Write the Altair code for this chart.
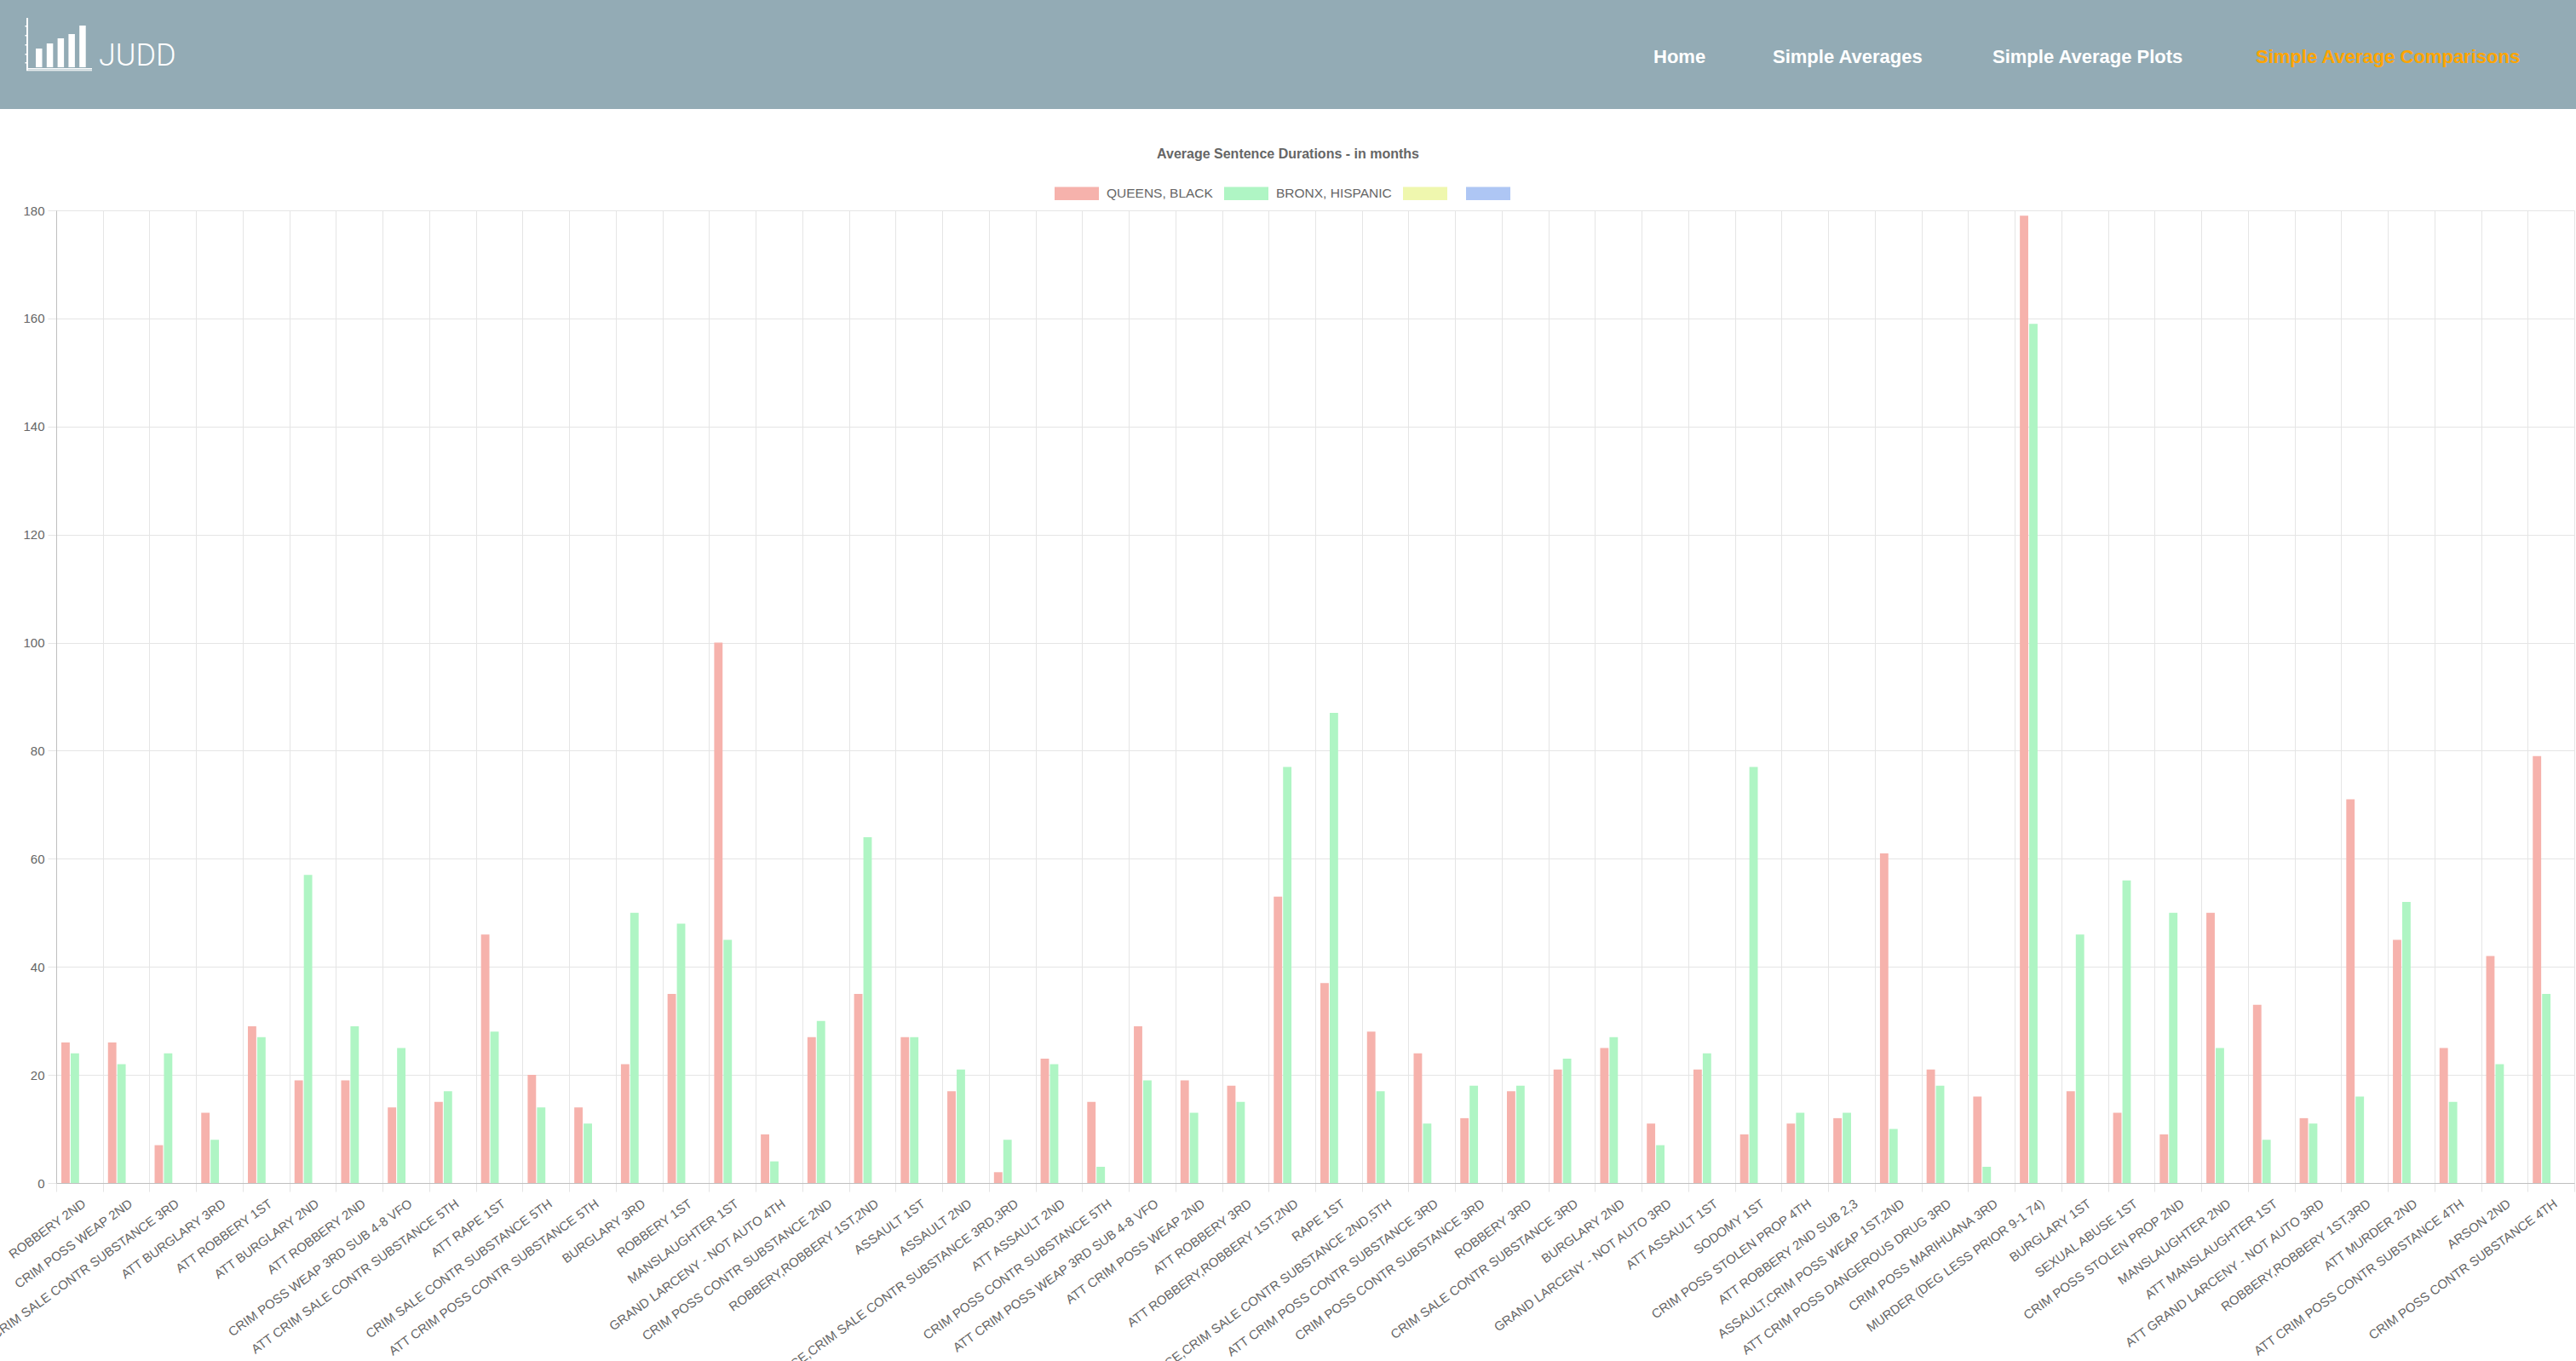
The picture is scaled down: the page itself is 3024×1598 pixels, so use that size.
import altair as alt
import pandas as pd

# ---------------- data ----------------
CATEGORIES = [
    "ROBBERY 2ND", "CRIM POSS WEAP 2ND", "CRIM SALE CONTR SUBSTANCE 3RD", "ATT BURGLARY 3RD",
    "ATT ROBBERY 1ST", "ATT BURGLARY 2ND", "ATT ROBBERY 2ND", "CRIM POSS WEAP 3RD SUB 4-8 VFO",
    "ATT CRIM SALE CONTR SUBSTANCE 5TH", "ATT RAPE 1ST", "CRIM SALE CONTR SUBSTANCE 5TH",
    "ATT CRIM POSS CONTR SUBSTANCE 5TH", "BURGLARY 3RD", "ROBBERY 1ST", "MANSLAUGHTER 1ST",
    "GRAND LARCENY - NOT AUTO 4TH", "CRIM POSS CONTR SUBSTANCE 2ND", "ROBBERY,ROBBERY 1ST,2ND",
    "ASSAULT 1ST", "ASSAULT 2ND", "CRIM POSS CONTR SUBSTANCE,CRIM SALE CONTR SUBSTANCE 3RD,3RD",
    "ATT ASSAULT 2ND", "CRIM POSS CONTR SUBSTANCE 5TH", "ATT CRIM POSS WEAP 3RD SUB 4-8 VFO",
    "ATT CRIM POSS WEAP 2ND", "ATT ROBBERY 3RD", "ATT ROBBERY,ROBBERY 1ST,2ND", "RAPE 1ST",
    "CRIM SALE CONTR SUBSTANCE,CRIM SALE CONTR SUBSTANCE 2ND,5TH", "ATT CRIM POSS CONTR SUBSTANCE 3RD",
    "CRIM POSS CONTR SUBSTANCE 3RD", "ROBBERY 3RD", "CRIM SALE CONTR SUBSTANCE 3RD ", "BURGLARY 2ND",
    "GRAND LARCENY - NOT AUTO 3RD", "ATT ASSAULT 1ST", "SODOMY 1ST", "CRIM POSS STOLEN PROP 4TH",
    "ATT ROBBERY 2ND SUB 2,3", "ASSAULT,CRIM POSS WEAP 1ST,2ND", "ATT CRIM POSS DANGEROUS DRUG 3RD",
    "CRIM POSS MARIHUANA 3RD", "MURDER (DEG LESS PRIOR 9-1 74)", "BURGLARY 1ST", "SEXUAL ABUSE 1ST",
    "CRIM POSS STOLEN PROP 2ND", "MANSLAUGHTER 2ND", "ATT MANSLAUGHTER 1ST",
    "ATT GRAND LARCENY - NOT AUTO 3RD", "ROBBERY,ROBBERY 1ST,3RD", "ATT MURDER 2ND",
    "ATT CRIM POSS CONTR SUBSTANCE 4TH", "ARSON 2ND", "CRIM POSS CONTR SUBSTANCE 4TH",
]
QUEENS_BLACK = [
    26, 26, 7, 13, 29, 19, 19, 14, 15, 46, 20, 14, 22, 35, 100, 9, 27, 35, 27, 17,
    2, 23, 15, 29, 19, 18, 53, 37, 28, 24, 12, 17, 21, 25, 11, 21, 9, 11, 12, 61,
    21, 16, 179, 17, 13, 9, 50, 33, 12, 71, 45, 25, 42, 79,
]
BRONX_HISPANIC = [
    24, 22, 24, 8, 27, 57, 29, 25, 17, 28, 14, 11, 50, 48, 45, 4, 30, 64, 27, 21,
    8, 22, 3, 19, 13, 15, 77, 87, 17, 11, 18, 18, 23, 27, 7, 24, 77, 13, 13, 10,
    18, 3, 159, 46, 56, 50, 25, 8, 11, 16, 52, 15, 22, 35,
]
SERIES = ["QUEENS, BLACK", "BRONX, HISPANIC", "series3", "series4"]
SERIES_COLORS = ["#F6B2AC", "#AFF5C4", "#EFF7AE", "#AEC6F4"]
Y_TICKS = [0, 20, 40, 60, 80, 100, 120, 140, 160, 180]
TITLE = "Average Sentence Durations - in months"
NAV_ITEMS = ["Home", "Simple Averages", "Simple Average Plots", "Simple Average Comparisons"]
BRAND = "JUDD"
ICON_BAR_HEIGHTS = [22, 28, 34, 39, 49]

# ---------------- layout (pixels) ----------------
PAGE_W = 3024
LEFT, TOP = 66, 247
W, H = 2956, 1142
HEADER_H = 128
NAV_X = [1941, 2081, 2339, 2648]
NAV_COLORS = ["white", "white", "white", "#FFA500"]
FONT = "Liberation Sans"

rows = []
for c, q, b in zip(CATEGORIES, QUEENS_BLACK, BRONX_HISPANIC):
    rows.append({"category": c, "series": SERIES[0], "value": q})
    rows.append({"category": c, "series": SERIES[1], "value": b})
df = pd.DataFrame(rows)

bars = alt.Chart(df).mark_bar().encode(
    x=alt.X(
        "category:N",
        sort=CATEGORIES,
        scale=alt.Scale(paddingInner=0, paddingOuter=0),
        axis=alt.Axis(
            title=None, labelAngle=-36, labelAlign="right", labelBaseline="middle",
            labelFontSize=15, labelColor="#666666", labelFont=FONT,
            labelPadding=12, labelOffset=5, labelOverlap=False, labelLimit=0,
            labelBound=False, labelFlush=False,
            tickBand="extent", grid=True, gridColor="#e5e5e5", gridWidth=1,
            tickColor="#e5e5e5", tickSize=10, domainColor="#bfbfbf", domainWidth=1,
        ),
    ),
    xOffset=alt.XOffset(
        "series:N",
        scale=alt.Scale(domain=SERIES, paddingInner=0.1, paddingOuter=0.55),
    ),
    y=alt.Y(
        "value:Q",
        scale=alt.Scale(domain=[0, 180], nice=False, zero=True),
        axis=alt.Axis(
            title=None, values=Y_TICKS, labelFontSize=15, labelColor="#666666",
            labelFont=FONT, labelPadding=4, tickSize=10, tickColor="#e5e5e5",
            grid=True, gridColor="#e5e5e5", gridWidth=1,
            domainColor="#bfbfbf", domainWidth=1, labelFlush=False,
        ),
    ),
    color=alt.Color(
        "series:N",
        scale=alt.Scale(domain=SERIES, range=SERIES_COLORS),
        legend=alt.Legend(
            orient="none", legendX=1172, legendY=-46, direction="horizontal",
            title=None, symbolType="M-1,-0.3H1V0.3H-1Z", symbolSize=2704,
            symbolStrokeWidth=0, symbolOpacity=1, labelFontSize=15.5,
            labelColor="#666666", labelFont=FONT, labelOffset=9,
            columnPadding=13, padding=0,
            labelExpr="(datum.label == 'series3' || datum.label == 'series4') ? '' : datum.label",
        ),
    ),
)

one = pd.DataFrame({"k": [0]})

header_bg = alt.Chart(one).mark_rect(color="#93abb5").encode(
    x=alt.value(-LEFT), x2=alt.value(PAGE_W - LEFT),
    y=alt.value(-TOP), y2=alt.value(HEADER_H - TOP),
)

# logo icon (decoration)
icon_rows = []
for i, h in enumerate(ICON_BAR_HEIGHTS):
    x0 = 42 + i * 12.8
    icon_rows.append({"x": x0 - LEFT, "x2": x0 + 7.5 - LEFT, "y": 79 - h - TOP, "y2": 79 - TOP})
icon_rows.append({"x": 31 - LEFT, "x2": 33 - LEFT, "y": 21 - TOP, "y2": 83 - TOP})
icon_rows.append({"x": 31 - LEFT, "x2": 108 - LEFT, "y": 80 - TOP, "y2": 81.5 - TOP})
icon_rows.append({"x": 31 - LEFT, "x2": 108 - LEFT, "y": 82.3 - TOP, "y2": 83.3 - TOP})
for ty in [30, 41, 52, 63, 73]:
    icon_rows.append({"x": 29.5 - LEFT, "x2": 31 - LEFT, "y": ty - TOP, "y2": ty + 1.5 - TOP})
icon = alt.Chart(pd.DataFrame(icon_rows)).mark_rect(color="white").encode(
    x=alt.X("x:Q", scale=None), x2="x2", y=alt.Y("y:Q", scale=None), y2="y2"
)

brand = alt.Chart(one).mark_text(
    align="left", baseline="alphabetic", font="Roboto", fontWeight=300,
    fontSize=36, color="white",
).encode(x=alt.value(116 - LEFT), y=alt.value(77 - TOP), text=alt.value(BRAND))

nav_layers = []
for item, nx, col in zip(NAV_ITEMS, NAV_X, NAV_COLORS):
    nav_layers.append(
        alt.Chart(one).mark_text(
            align="left", baseline="alphabetic", font=FONT, fontWeight="bold",
            fontSize=22, color=col,
        ).encode(x=alt.value(nx - LEFT), y=alt.value(74 - TOP), text=alt.value(item))
    )

title = alt.Chart(one).mark_text(
    align="center", baseline="middle", font=FONT, fontWeight="bold",
    fontSize=16, color="#666666",
).encode(x=alt.value(PAGE_W / 2 - LEFT), y=alt.value(181 - TOP), text=alt.value(TITLE))

chart = alt.layer(header_bg, icon, brand, *nav_layers, title, bars).properties(
    width=W, height=H,
    autosize=alt.AutoSizeParams(type="none"),
    padding={"left": LEFT, "top": TOP, "right": PAGE_W - LEFT - W, "bottom": 1598 - TOP - H},
    background="white",
).configure_view(stroke=None)

chart.save("out.html", embed_options={"renderer": "svg", "actions": False})
